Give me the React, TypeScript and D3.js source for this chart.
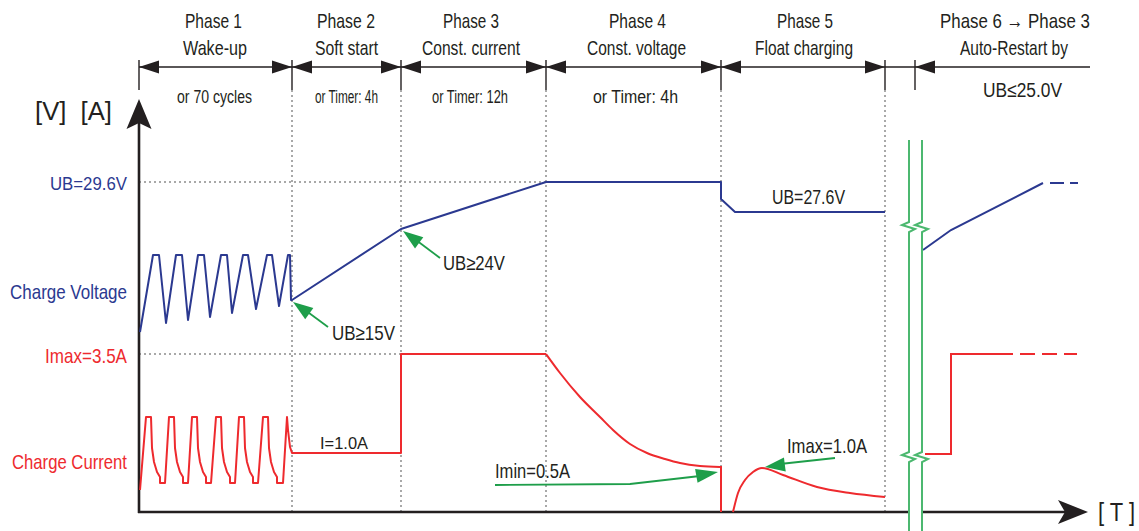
import React from "react";
import * as d3 from "d3";

// ---------- data (schematic units: time t, level v) ----------
const phaseEdges = [0, 153, 262, 407, 582, 746];
const restartEdge = 776;
const breakLines = [770, 783];
const timeMax = 949;
const levelMax = 412;

const phaseTitles = ["Phase 1", "Phase 2", "Phase 3", "Phase 4", "Phase 5", "Phase 6 \u2192 Phase 3"];
const phaseNames = ["Wake-up", "Soft start", "Const. current", "Const. voltage", "Float charging", "Auto-Restart by"];
const phaseLimits = ["or 70 cycles", "or Timer: 4h", "or Timer: 12h", "or Timer: 4h", "", "UB\u226425.0V"];

const uMaxLevel = 330; // UB=29.6V
const iMaxLevel = 158; // Imax=3.5A

const voltageMain: [number, number][] = [
  [1, 180], [14, 257], [20, 257], [27, 189], [37, 257], [43, 257], [49, 192],
  [59, 257], [65, 257], [71, 195], [82, 257], [88, 257], [93, 199],
  [104, 257], [109, 257], [117, 203], [128, 257], [133, 257], [140, 206],
  [149, 257], [151, 257], [152, 212], [153, 212],
  [262, 283], [407, 330], [582, 330], [582, 313], [596, 300], [746, 300],
];
const voltageRestart: [number, number][] = [[784, 262], [812, 282], [904, 329]];
const voltageRestartDash: [number, number][] = [[911, 329], [939, 329]];

const currentMain: [number, number][] = [
  [1, 22], [7, 95], [12, 95], [13, 64], [15, 50], [18, 40], [21, 35], [21, 29], [26, 29],
  [30, 95], [35, 95], [36, 64], [38, 50], [41, 40], [44, 35], [44, 29], [49, 29],
  [53, 95], [58, 95], [59, 64], [61, 50], [64, 40], [67, 35], [67, 29], [72, 29],
  [77, 95], [82, 95], [83, 64], [85, 50], [88, 40], [91, 35], [91, 29], [96, 29],
  [100, 95], [105, 95], [106, 64], [108, 50], [111, 40], [114, 35], [114, 29], [119, 29],
  [124, 95], [129, 95], [130, 64], [132, 50], [135, 40], [138, 35], [138, 29], [144, 29],
  [148, 95], [149, 82], [151, 65], [153, 59],
  [262, 59], [262, 158], [407, 158],
];
const currentDecay: [number, number][] = [
  [407, 158], [421, 139], [441, 115], [461, 95], [474, 82], [491, 68], [508, 59],
  [526, 53], [541, 49], [561, 46], [581, 45],
];
const currentCutoff: [number, number][] = [[581, 45], [582, 45], [582, 0]];
const currentFloat: [number, number][] = [
  [594, 0], [599, 19], [606, 32], [614, 40], [623, 44], [644, 37], [678, 25], [711, 19], [746, 15],
];
const currentRestart: [number, number][] = [[786, 58], [812, 58], [812, 158], [874, 158]];
const currentRestartDash: [number, number][] = [[881, 158], [938, 158]];

// ---------- styles ----------
const INK = "#231f20";
const BLUE = "#2b3990";
const RED = "#ee2a2e";
const GREEN = "#1e9e4a";
const GREEN_LIGHT = "#4cb870";
const GRID = "#8c8c8c";
const FONT = "'Liberation Sans', Arial, Helvetica, sans-serif";

type TP = {
  x: number; y: number; w: number; size?: number; fill?: string;
  anchor?: "start" | "middle" | "end"; children: React.ReactNode;
};
function T({ x, y, w, size = 20, fill = INK, anchor = "middle", children }: TP) {
  return (
    <text x={x} y={y} fontSize={size} fill={fill} textAnchor={anchor}
      textLength={w} lengthAdjust="spacingAndGlyphs" fontFamily={FONT}
      style={{ whiteSpace: "pre" }}>
      {children}
    </text>
  );
}

function head(tx: number, ty: number, fx: number, fy: number, len = 20, half = 7) {
  const a = Math.atan2(ty - fy, tx - fx);
  const bx = tx - len * Math.cos(a), by = ty - len * Math.sin(a);
  const px = -Math.sin(a) * half, py = Math.cos(a) * half;
  return `M${tx},${ty}L${bx + px},${by + py}L${bx - px},${by - py}Z`;
}

// layout of header text
const titleCx = [213.5, 346, 471, 637.5, 805, 1015];
const titleW = [57, 58, 56, 57, 56, 150];
const nameCx = [215, 346.5, 471, 636.5, 804, 1014];
const nameW = [64, 63, 98, 99, 98, 108];
const limitCx = [214.5, 346.5, 470, 635.5, 0, 1022.5];
const limitW = [75, 63, 76, 85, 0, 79];

export default function App() {
  const x = d3.scaleLinear().domain([0, timeMax]).range([139, 1088]);
  const y = d3.scaleLinear().domain([0, levelMax]).range([512, 100]);
  const lin = d3.line<[number, number]>().x((d) => x(d[0])).y((d) => y(d[1]));
  const smooth = d3.line<[number, number]>().x((d) => x(d[0])).y((d) => y(d[1])).curve(d3.curveMonotoneX);

  const x0 = x(0), yb = y(0);
  const topY = 67;

  const zig = (bx: number) => {
    const z1 = 227, z2 = 457;
    const seg = (z: number) => `V${z - 5}L${bx - 7},${z - 2}L${bx + 6},${z + 2}L${bx},${z + 5}`;
    return `M${bx},140${seg(z1)}${seg(z2)}V531`;
  };

  const topArrows: string[] = [];
  for (let i = 0; i < 5; i++) {
    const a = x(phaseEdges[i]), b = x(phaseEdges[i + 1]);
    topArrows.push(head(a, topY, a + 10, topY, 20, 6.5));
    topArrows.push(head(b, topY, b - 10, topY, 20, 6.5));
  }
  const rx = x(restartEdge);
  topArrows.push(head(rx, topY, rx + 10, topY, 20, 6.5));

  return (
    <svg width={1139} height={531} style={{ position: "absolute", left: 0, top: 0, background: "#fff" }}>
      <rect width={1139} height={531} fill="#fff" />

      {/* dotted guides */}
      {phaseEdges.slice(1).map((e, i) => (
        <line key={"v" + i} x1={x(e)} x2={x(e)} y1={90} y2={yb} stroke={GRID} strokeWidth={1.5} strokeDasharray="2,3" />
      ))}
      <line x1={x0} x2={x(phaseEdges[3])} y1={y(uMaxLevel)} y2={y(uMaxLevel)} stroke={GRID} strokeWidth={1.5} strokeDasharray="2,3" />
      <line x1={x0} x2={x(phaseEdges[2])} y1={y(iMaxLevel)} y2={y(iMaxLevel)} stroke={GRID} strokeWidth={1.5} strokeDasharray="2,3" />

      {/* top phase indicator */}
      <line x1={x0} x2={1090} y1={topY} y2={topY} stroke={INK} strokeWidth={1.6} />
      {[...phaseEdges, restartEdge].map((e, i) => (
        <line key={"t" + i} x1={x(e)} x2={x(e)} y1={60} y2={90} stroke={INK} strokeWidth={1.4} />
      ))}
      {topArrows.map((d, i) => <path key={"ah" + i} d={d} fill={INK} />)}

      {/* header text */}
      {phaseTitles.map((t, i) => (
        <T key={"pt" + i} x={titleCx[i]} y={28} w={titleW[i]} size={21}>{t}</T>
      ))}
      {phaseNames.map((t, i) => (
        <T key={"pn" + i} x={nameCx[i]} y={55} w={nameW[i]} size={21}>{t}</T>
      ))}
      {phaseLimits.map((t, i) => t ? (
        <T key={"pl" + i} x={limitCx[i]} y={i === 5 ? 97 : 103} w={limitW[i]} size={i === 5 ? 20 : 18}>{t}</T>
      ) : null)}

      {/* axes */}
      <line x1={x0} x2={x0} y1={122} y2={yb + 1} stroke={INK} strokeWidth={2.6} />
      <path d="M139,99L151.5,129L139,123L126.5,129Z" fill={INK} />
      <line x1={x0 - 1} x2={x(breakLines[0])} y1={yb} y2={yb} stroke={INK} strokeWidth={2.6} />
      <line x1={x(breakLines[1])} x2={1066} y1={yb} y2={yb} stroke={INK} strokeWidth={2.6} />
      <path d="M1088,512L1058,500L1065,512L1058,524Z" fill={INK} />

      {/* y labels */}
      <T x={35} y={120} w={77} size={25} anchor="start">{"[V]  [A]"}</T>
      <T x={127} y={190} w={77} size={18} fill={BLUE} anchor="end">UB=29.6V</T>
      <T x={127} y={299} w={117} size={21} fill={BLUE} anchor="end">Charge Voltage</T>
      <T x={127} y={363} w={82} size={21} fill={RED} anchor="end">Imax=3.5A</T>
      <T x={127} y={469} w={115} size={21} fill={RED} anchor="end">Charge Current</T>
      <T x={1098} y={521} w={37} size={25} anchor="start">{"[ T ]"}</T>

      {/* series */}
      <path d={lin(voltageMain) ?? ""} fill="none" stroke={BLUE} strokeWidth={2} strokeLinejoin="round" />
      <path d={lin(voltageRestart) ?? ""} fill="none" stroke={BLUE} strokeWidth={2} />
      <path d={lin(voltageRestartDash) ?? ""} fill="none" stroke={BLUE} strokeWidth={2} strokeDasharray="14,6" />
      <path d={lin(currentMain) ?? ""} fill="none" stroke={RED} strokeWidth={2} strokeLinejoin="round" />
      <path d={smooth(currentDecay) ?? ""} fill="none" stroke={RED} strokeWidth={2} />
      <path d={lin(currentCutoff) ?? ""} fill="none" stroke={RED} strokeWidth={2} />
      <path d={smooth(currentFloat) ?? ""} fill="none" stroke={RED} strokeWidth={2} />
      <path d={lin(currentRestart) ?? ""} fill="none" stroke={RED} strokeWidth={2} />
      <path d={lin(currentRestartDash) ?? ""} fill="none" stroke={RED} strokeWidth={2} strokeDasharray="15,7" />

      {/* break lines */}
      {breakLines.map((b, i) => (
        <path key={"b" + i} d={zig(x(b))} fill="none" stroke={GREEN_LIGHT} strokeWidth={2} />
      ))}

      {/* annotations */}
      <line x1={328} y1={327} x2={305} y2={310} stroke={GREEN} strokeWidth={1.8} />
      <path d={head(293, 302, 328, 327, 20, 7)} fill={GREEN} />
      <T x={332} y={340} w={63} size={21} anchor="start">UB≥15V</T>

      <line x1={440} y1={258} x2={416} y2={240} stroke={GREEN} strokeWidth={1.8} />
      <path d={head(403, 231, 440, 258, 20, 7)} fill={GREEN} />
      <T x={443} y={270} w={62} size={20} anchor="start">UB≥24V</T>

      <T x={320} y={449} w={48} size={17} anchor="start">I=1.0A</T>

      <path d="M495,485L630,484L700,476" fill="none" stroke={GREEN} strokeWidth={1.8} />
      <path d={head(718, 472, 690, 477, 22, 7)} fill={GREEN} />
      <T x={495} y={478} w={75} size={21} anchor="start">Imin=0.5A</T>

      <line x1={835} y1={458} x2={780} y2={464} stroke={GREEN} strokeWidth={1.8} />
      <path d={head(765, 467, 835, 458, 20, 7)} fill={GREEN} />
      <T x={787} y={453} w={80} size={21} anchor="start">Imax=1.0A</T>

      <T x={772} y={204} w={73} size={21} anchor="start">UB=27.6V</T>
    </svg>
  );
}
